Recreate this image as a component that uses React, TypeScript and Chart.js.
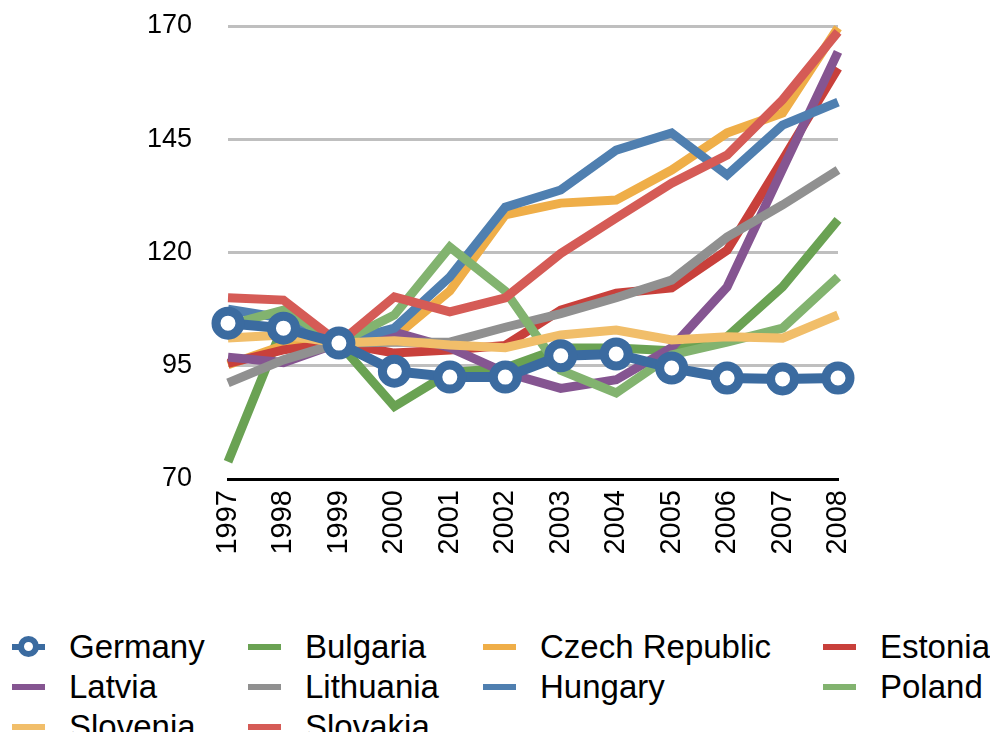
import React, { useEffect, useRef } from "react";
import { Chart, registerables } from "chart.js";

Chart.register(...registerables);

const years = ["1997", "1998", "1999", "2000", "2001", "2002", "2003", "2004", "2005", "2006", "2007", "2008"];
const yTicks = [70, 95, 120, 145, 170];

const germany = [104.4, 103.3, 100, 93.8, 92.5, 92.5, 97.2, 97.6, 94.5, 92.3, 92.1, 92.3];
const bulgaria = [73.8, 104, 100, 86, 93.5, 94.5, 98.9, 98.9, 98.3, 101.4, 112.4, 127.2];
const czechRepublic = [95.2, 99.5, 100, 101.3, 111.5, 128.3, 130.9, 131.6, 138.2, 146.4, 150.8, 169.6];
const estonia = [95.5, 98.5, 100, 97.8, 98.5, 99.5, 107.3, 111, 112.2, 120.5, 140.4, 160.7];
const latvia = [96.9, 95.7, 100, 102.4, 99, 93.5, 90, 91.9, 99, 112.4, 138.4, 164.3];
const lithuania = [91.2, 96.3, 100, 100.2, 100.2, 103.5, 106.5, 110, 113.9, 123.4, 130.5, 138.2];
const hungary = [107.5, 105.5, 100, 103.3, 114.6, 130, 133.8, 142.6, 146.4, 137.1, 148.1, 153.2];
const poland = [104, 107.3, 100, 106.2, 121.2, 111.5, 94, 89, 97.4, 100.2, 103.3, 114.6];
const slovenia = [101.1, 101.8, 100, 100.5, 99.6, 99, 101.8, 102.9, 100.7, 101.4, 101.1, 106.2];
const slovakia = [110, 109.5, 100, 110.2, 106.9, 110, 119.8, 127.6, 135.3, 141.5, 153.7, 168.7];

const seriesNames = ["Germany", "Bulgaria", "Czech Republic", "Estonia", "Latvia", "Lithuania", "Hungary", "Poland", "Slovenia", "Slovakia"];
const seriesData = [germany, bulgaria, czechRepublic, estonia, latvia, lithuania, hungary, poland, slovenia, slovakia];
const seriesColors = ["#3b6ba0", "#6aa253", "#efae48", "#c8403b", "#855591", "#909090", "#4f7fb0", "#82b36f", "#f1be6a", "#d55b56"];

const FONT = "'Liberation Sans', Arial, Helvetica, sans-serif";

export default function App() {
  const ref = useRef<HTMLCanvasElement | null>(null);

  useEffect(() => {
    document.documentElement.style.overflow = "hidden";
    if (!ref.current) return;
    const datasets = seriesNames.map((name, i) => {
      const isG = i === 0;
      return {
        label: name,
        data: seriesData[i],
        borderColor: seriesColors[i],
        backgroundColor: seriesColors[i],
        borderWidth: isG ? 10 : 9,
        tension: 0,
        fill: false,
        clip: false as any,
        order: isG ? 0 : seriesNames.length - i,
        pointRadius: isG ? 12 : 0,
        pointHoverRadius: isG ? 12 : 0,
        pointBorderWidth: isG ? 9 : 0,
        pointBackgroundColor: "#ffffff",
        pointBorderColor: seriesColors[i],
      };
    });
    const chart = new Chart(ref.current, {
      type: "line",
      data: { labels: years, datasets },
      options: {
        responsive: false,
        animation: false,
        devicePixelRatio: 1,
        layout: { padding: { top: 18, right: 152, bottom: 0, left: 0 } },
        plugins: {
          legend: { display: false },
          tooltip: { enabled: false },
          title: { display: false },
        },
        scales: {
          x: {
            type: "category",
            offset: false,
            grid: { display: false, drawTicks: false },
            border: { display: true, color: "#000000", width: 3 },
            ticks: {
              autoSkip: false,
              maxRotation: 90,
              minRotation: 90,
              padding: 11,
              color: "#000000",
              font: { family: FONT, size: 29 },
            },
            afterFit: (s: any) => {
              s.height = 106;
              s.paddingLeft = 0;
              s.paddingRight = 0;
            },
          },
          y: {
            min: yTicks[0],
            max: yTicks[yTicks.length - 1],
            afterBuildTicks: (s: any) => {
              s.ticks = yTicks.map((v) => ({ value: v }));
            },
            grid: { color: "#bfbfbf", lineWidth: 3, drawTicks: false },
            border: { display: false },
            ticks: {
              padding: 36,
              color: "#000000",
              font: { family: FONT, size: 27 },
            },
            afterFit: (s: any) => {
              s.width = 220;
              s.paddingTop = 0;
              s.paddingBottom = 0;
            },
          },
        },
      },
    });
    return () => chart.destroy();
  }, []);

  const colWidths = [236, 235, 340, 167];
  const rows: number[][] = [];
  for (let i = 0; i < seriesNames.length; i += 4) {
    rows.push(seriesNames.slice(i, i + 4).map((_, j) => i + j));
  }

  const marker = (i: number) => {
    if (i === 0) {
      return (
        <div style={{ position: "relative", width: 33, height: 40 }}>
          <div style={{ position: "absolute", left: 0, top: 17, width: 33, height: 6, background: seriesColors[0] }} />
          <div
            style={{
              position: "absolute",
              left: 6,
              top: 9,
              width: 21,
              height: 21,
              boxSizing: "border-box",
              borderRadius: "50%",
              border: `6px solid ${seriesColors[0]}`,
              background: "#ffffff",
            }}
          />
        </div>
      );
    }
    return (
      <div style={{ position: "relative", width: 33, height: 40 }}>
        <div style={{ position: "absolute", left: 0, top: 17, width: 33, height: 6, background: seriesColors[i] }} />
      </div>
    );
  };

  return (
    <div style={{ position: "relative", width: 982, height: 724, fontFamily: FONT }}>
      <canvas ref={ref} width={982} height={580} style={{ display: "block", position: "absolute", left: 0, top: -3 }} />
      <div style={{ position: "absolute", top: 619, left: 4 }}>
        {rows.map((row, r) => (
          <div key={r} style={{ display: "flex", height: 40 }}>
            {row.map((idx, c) => (
              <div key={idx} style={{ width: colWidths[c], display: "flex", alignItems: "center" }}>
                {marker(idx)}
                <span style={{ marginLeft: 24, fontSize: 33, lineHeight: "40px", color: "#000", whiteSpace: "nowrap" }}>
                  {seriesNames[idx]}
                </span>
              </div>
            ))}
          </div>
        ))}
      </div>
    </div>
  );
}
